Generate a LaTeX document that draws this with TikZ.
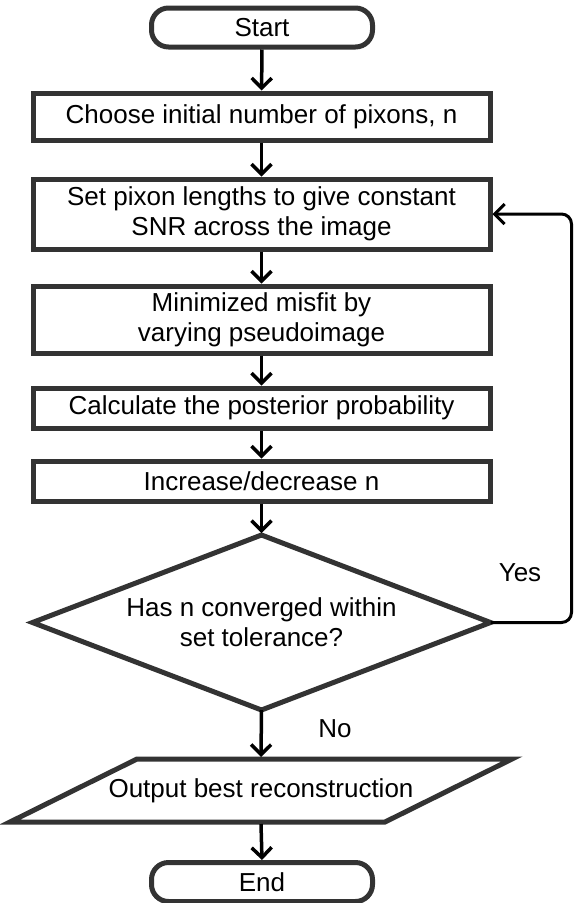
\documentclass[tikz,border=0pt]{standalone}
\usepackage{fontspec}
\setmainfont{Liberation Sans}
\usetikzlibrary{arrows.meta,calc}
\begin{document}
\begin{tikzpicture}[x=1pt,y=-1pt,
  font=\fontsize{26}{30}\selectfont,
  boxline/.style={draw=black!80, line width=5pt},
  procbox/.style={boxline, rectangle, minimum width=457pt, inner sep=0pt, align=center, fill=white},
  termbox/.style={boxline, rectangle, rounded corners=17pt, minimum width=221pt, minimum height=39pt, inner sep=0pt},
  hidden/.style={rectangle, inner sep=0pt, outer sep=0pt, align=center},
  flow/.style={draw=black, line width=3.5pt, -{Straight Barb[length=10pt,width=20pt]}},
  lbl/.style={inner sep=0pt}
]
\useasboundingbox (0,0) rectangle (574,903);

\node[termbox] (start) at (262,27.5) {Start};
\node[procbox, minimum height=47pt] (b1) at (261.5,116.5) {Choose initial number of pixons, n};
\node[procbox, minimum height=70pt] (b2) at (261.5,214) {Set pixon lengths to give constant\\SNR across the image};
\node[procbox, minimum height=67pt] (b3) at (261.5,319.5) {Minimized misfit by\\varying pseudoimage};
\node[procbox, minimum height=40pt] (b4) at (261.5,408) {Calculate the posterior probability};
\node[procbox, minimum height=40pt] (b5) at (261.5,481) {Increase/decrease n};

\node[hidden, minimum width=458pt, minimum height=175pt] (dec) at (261.5,622.5) {Has n converged within\\set tolerance?};
\draw[boxline, line join=miter] (dec.north) -- (dec.east) -- (dec.south) -- (dec.west) -- cycle;

\node[hidden, minimum width=375pt, minimum height=63pt] (out) at (261,790.5) {Output best reconstruction};
\draw[boxline, line join=miter]
  ($(out.south west)+(-63.5,0)$) -- ($(out.south east)+(-63.5,0)$) --
  ($(out.north east)+(63.5,0)$) -- ($(out.north west)+(63.5,0)$) -- cycle;

\node[termbox] (end) at (262,882) {End};

\node[lbl] (yes) at (520,573) {Yes};
\node[lbl] (no) at (335,729) {No};

\coordinate (loopR) at (571.5,0);

\draw[flow] (start) -- (b1);
\draw[flow] (b1) -- (b2);
\draw[flow] (b2) -- (b3);
\draw[flow] (b3) -- (b4);
\draw[flow] (b4) -- (b5);
\draw[flow] (b5.south) -- ([yshift=2pt]dec.north);
\draw[flow] (dec.south) -- ([yshift=2pt]out.north);
\draw[flow] ([yshift=-2pt]out.south) -- (end.north);
\draw[flow, line width=3pt, rounded corners=10pt] (dec.east) -- (dec.east -| loopR) -- (b2.east -| loopR) -- (b2.east);
\end{tikzpicture}
\end{document}
